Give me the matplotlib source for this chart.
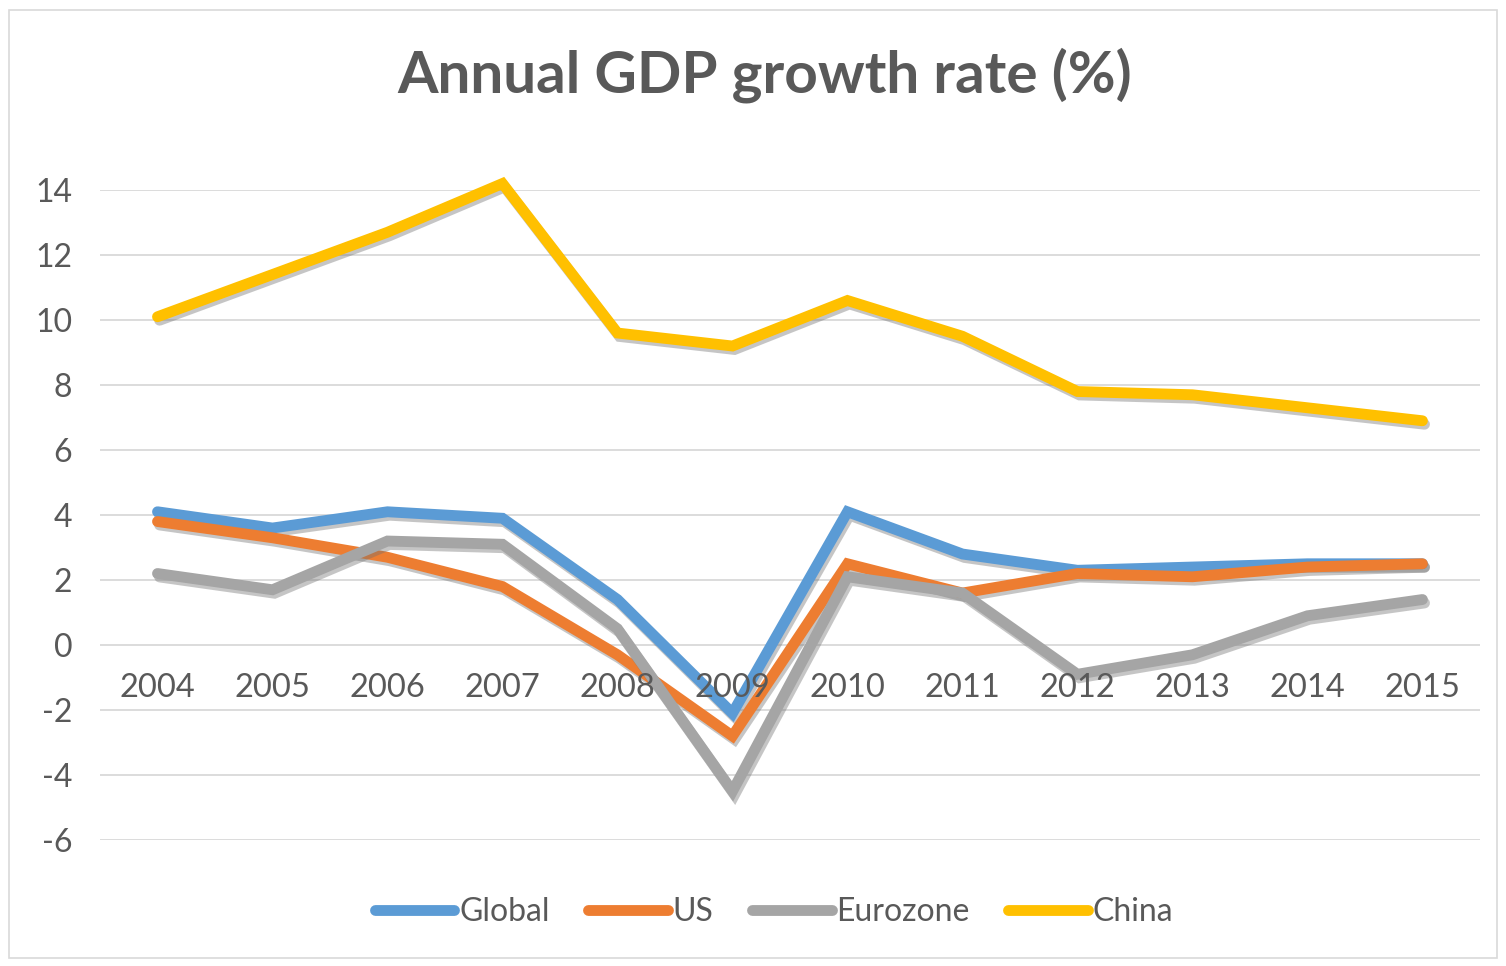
import numpy as np
import matplotlib.pyplot as plt
import matplotlib.patheffects as pe
from matplotlib.patches import Rectangle

years = ['2004', '2005', '2006', '2007', '2008', '2009',
         '2010', '2011', '2012', '2013', '2014', '2015']
global_gdp = [4.1, 3.6, 4.1, 3.9, 1.4, -2.1, 4.1, 2.8, 2.3, 2.4, 2.5, 2.5]
us_gdp = [3.8, 3.3, 2.7, 1.8, -0.3, -2.8, 2.5, 1.6, 2.2, 2.1, 2.4, 2.5]
euro_gdp = [2.2, 1.7, 3.2, 3.1, 0.5, -4.5, 2.1, 1.6, -0.9, -0.3, 0.9, 1.4]
china_gdp = [10.1, 11.4, 12.7, 14.2, 9.6, 9.2, 10.6, 9.5, 7.8, 7.7, 7.3, 6.9]

series = ['Global', 'US', 'Eurozone', 'China']
colors = ['#5B9BD5', '#ED7D31', '#A5A5A5', '#FFC000']
yticks = [-6, -4, -2, 0, 2, 4, 6, 8, 10, 12, 14]

plt.rcParams['font.family'] = ['Lato', 'DejaVu Sans']

fig = plt.figure(figsize=(15.06, 9.66), dpi=100)
fig.patches.append(Rectangle((0.006, 0.008), 0.988, 0.982, transform=fig.transFigure,
                             fill=False, edgecolor='#D9D9D9', linewidth=1.2))
ax = fig.add_axes([0.0664, 0.1304, 0.9163, 0.6729])

x = np.arange(len(years))
shadow = [pe.SimpleLineShadow(offset=(1.5, -2.5), shadow_color='#707070', alpha=0.4), pe.Normal()]
for name, vals, col in zip(series, [global_gdp, us_gdp, euro_gdp, china_gdp], colors):
    ax.plot(x, vals, color=col, linewidth=7.8, solid_joinstyle='miter',
            solid_capstyle='round', label=name, path_effects=shadow, clip_on=False, zorder=3)

ax.set_xlim(-0.5, len(years) - 0.5)
ax.set_ylim(-6, 14)
ax.set_yticks(yticks)
ax.set_yticklabels([str(t) for t in yticks], fontsize=23, color='#595959')
ax.tick_params(axis='y', length=0, pad=20)
ax.grid(axis='y', color='#D9D9D9', linewidth=1.3)
ax.set_axisbelow(True)
for s in ax.spines.values():
    s.set_visible(False)

# category labels sit just under the zero line, drawn over the lines
ax.set_xticks([])
for xi, lab in zip(x, years):
    ax.annotate(lab, (xi, 0), xytext=(0, -20), textcoords='offset points',
                ha='center', va='top', fontsize=23.5, color='#595959', zorder=4)

fig.text(0.508, 0.922, 'Annual GDP growth rate (%)', ha='center', va='center',
         fontsize=42, fontweight='bold', color='#595959')

leg = fig.legend(loc='center', bbox_to_anchor=(0.514, 0.056), ncol=4, frameon=False,
                 fontsize=23, handlelength=2.5, handletextpad=0.15, columnspacing=1.2)
for t in leg.get_texts():
    t.set_color('#595959')
for h in leg.get_lines():
    h.set_linewidth(7.8)
    h.set_path_effects([])

fig.savefig('out.png', dpi=100)
